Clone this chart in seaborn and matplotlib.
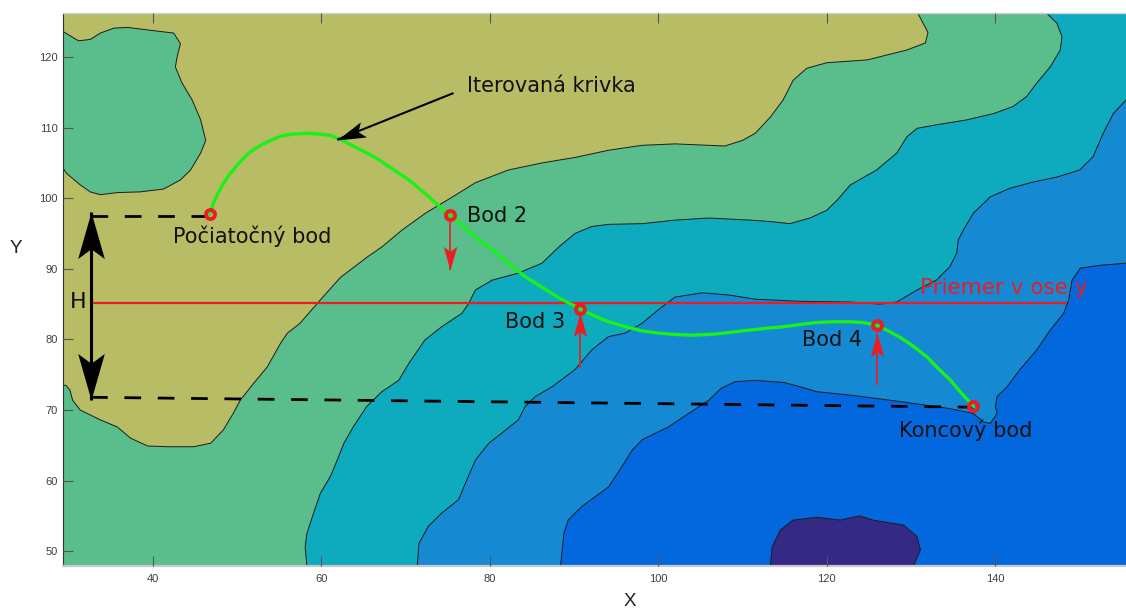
import numpy as np
import seaborn as sns
import matplotlib
matplotlib.use("Agg")
from matplotlib import pyplot as plt
from matplotlib.path import Path
from matplotlib.markers import MarkerStyle
from matplotlib.transforms import Affine2D

# contour boundaries (data units)
olive_x = [130.8, 132.0, 131.7, 129.5, 124.8, 120.0, 117.6, 116.0, 114.8, 113.3, 111.5, 110.0, 107.9, 102.0,
           98.1, 94.1, 90.2, 86.2, 82.2, 78.3, 75.6, 72.4, 69.6, 67.2, 65.5, 62.3, 59.9, 57.5, 56.0, 55.2,
           53.6, 52.0, 50.4, 49.6, 48.4, 46.9, 44.9, 41.8, 39.4, 37.4, 35.8, 33.8, 31.4, 30.5, 30.2, 29.7, 29.4]
olive_y = [126.2, 123.5, 122.0, 121.0, 119.6, 119.2, 118.4, 116.7, 113.9, 111.5, 109.2, 108.2, 107.4, 107.7,
           107.5, 106.8, 105.8, 105.0, 104.0, 102.2, 100.2, 97.9, 95.5, 93.1, 91.7, 88.8, 85.6, 82.3, 80.9, 79.5,
           76.1, 73.8, 71.4, 69.6, 67.2, 65.3, 64.8, 64.8, 64.9, 66.0, 67.6, 68.6, 70.0, 71.4, 72.8, 73.5, 73.5]

blob_x = [29.4, 31.2, 32.6, 33.8, 35.4, 37.0, 39.7, 42.5, 43.3, 42.9, 42.7, 43.5, 44.7, 45.7, 46.3, 45.7,
          44.5, 43.3, 41.3, 38.5, 35.8, 33.8, 32.6, 31.4, 29.8, 29.4]
blob_y = [123.6, 122.3, 122.5, 123.4, 124.1, 124.2, 123.8, 123.4, 121.9, 120.0, 118.6, 116.3, 113.9, 111.1,
          108.2, 106.4, 104.0, 102.6, 101.3, 100.9, 100.8, 100.5, 100.9, 101.9, 103.5, 104.2]

green_x = [146.1, 147.3, 147.9, 147.7, 146.5, 144.9, 143.7, 142.1, 139.8, 136.6, 133.0, 130.7, 129.5, 128.3,
           125.9, 122.8, 121.2, 120.0, 118.0, 115.6, 113.3, 110.9, 106.0, 102.0, 98.1, 94.1, 92.1, 90.1, 88.2,
           86.2, 83.4, 80.3, 78.3, 77.5, 76.7, 74.3, 72.3, 70.4, 69.2, 67.2, 65.4, 63.8, 62.7, 61.9, 61.1,
           59.9, 59.1, 58.3, 58.1, 58.3]
green_y = [126.2, 124.8, 122.9, 121.0, 118.6, 116.3, 114.4, 113.0, 112.0, 111.1, 110.4, 109.9, 108.7, 106.4,
           104.0, 101.9, 99.7, 98.3, 97.2, 96.4, 96.7, 96.9, 97.2, 96.9, 96.4, 96.3, 96.0, 95.0, 93.1,
           90.8, 89.4, 88.4, 87.0, 85.1, 83.7, 81.8, 79.9, 76.6, 74.2, 72.6, 70.5, 67.6, 65.3, 62.9, 60.6,
           58.2, 55.4, 52.5, 50.6, 47.9]

teal_x = [155.5, 154.0, 152.8, 151.6, 150.0, 147.3, 144.5, 141.7, 139.4, 137.4, 136.2, 135.6, 135.4, 134.6,
          133.0, 130.7, 128.3, 126.3, 122.8, 116.8, 111.5, 108.3, 105.2, 102.0, 100.2, 98.1, 96.1, 94.1,
          92.1, 90.1, 87.4, 85.4, 84.2, 83.4, 81.4, 79.9, 78.3, 77.1, 76.3, 74.3, 72.7, 71.6, 71.4]
teal_y = [113.9, 112.0, 109.2, 105.9, 104.0, 103.0, 102.3, 101.4, 100.2, 97.9, 95.5, 94.1, 92.2, 90.3,
          88.4, 87.0, 85.3, 85.0, 85.3, 85.4, 85.7, 86.3, 86.6, 86.0, 84.4, 82.3, 80.9, 80.4,
          78.5, 75.7, 73.3, 71.9, 70.5, 68.6, 66.7, 65.3, 62.9, 59.6, 57.3, 55.4, 53.5, 51.1, 47.9]

blue_x = [88.4, 88.8, 89.3, 90.9, 94.1, 95.7, 96.9, 98.1, 101.2, 103.6, 106.0, 107.5, 109.1, 111.5, 114.9,
          116.8, 118.8, 122.8, 128.7, 134.6, 137.4, 138.6, 139.4, 140.2, 140.0, 140.2, 141.4, 142.9, 144.9,
          146.5, 148.1, 148.7, 149.1, 150.1, 152.4, 155.5]
blue_y = [47.9, 52.5, 54.4, 56.3, 59.1, 62.0, 64.3, 65.8, 67.6, 69.5, 71.4, 73.1, 74.0, 74.2, 73.9,
          73.3, 72.6, 72.1, 71.2, 70.2, 69.5, 68.3, 68.1, 69.5, 70.5, 71.9, 73.3, 75.7, 78.5,
          81.3, 83.7, 85.6, 88.4, 90.1, 90.5, 90.8]

purple_x = [113.3, 113.5, 114.5, 116.0, 118.8, 121.6, 123.9, 125.5, 129.1, 130.7, 131.1, 130.3]
purple_y = [47.9, 50.6, 53.0, 54.4, 54.8, 54.4, 55.0, 54.4, 53.7, 52.1, 50.2, 47.9]

# iterated curve
curve_x = [46.8, 47.2, 47.8, 48.4, 49.2, 50.2, 51.4, 52.8, 54.2, 55.5, 56.9, 58.3, 59.7, 61.1, 62.5, 63.8,
           65.4, 66.4, 68.4, 70.4, 72.3, 73.9, 75.3, 76.7, 78.3, 80.3, 82.2, 84.2, 86.2, 88.2, 89.8, 90.7,
           92.1, 94.1, 96.1, 98.1, 100.0, 102.0, 104.0, 106.0, 107.9, 109.9, 111.5, 112.9, 114.9, 116.8,
           118.8, 120.8, 122.8, 124.3, 125.9, 127.3, 128.7, 130.3, 131.9, 133.2, 134.6, 135.6, 136.5, 137.4]
curve_y = [97.7, 99.3, 100.8, 102.1, 103.5, 104.9, 106.4, 107.5, 108.3, 108.9, 109.1, 109.2, 109.1, 108.9,
           108.2, 107.4, 106.4, 105.8, 104.2, 102.6, 100.7, 99.0, 97.6, 96.2, 94.5, 92.7, 90.8, 88.9, 87.4,
           85.9, 84.9, 84.3, 83.5, 82.5, 81.8, 81.2, 80.9, 80.7, 80.6, 80.7, 80.9, 81.2, 81.4, 81.6, 81.8,
           82.1, 82.4, 82.5, 82.5, 82.4, 82.0, 81.2, 80.3, 79.0, 77.5, 75.9, 74.3, 72.9, 71.7, 70.5]

point_x = [46.8, 75.3, 90.7, 125.9, 137.4]
point_y = [97.7, 97.6, 84.3, 82.0, 70.5]
point_labels = ["Počiatočný bod", "Bod 2", "Bod 3", "Bod 4", "Koncový bod"]
label_x = [42.4, 77.3, 81.8, 117.1, 128.6]
label_y = [93.6, 96.7, 81.6, 79.1, 66.2]

mean_y = 85.1
mean_x = [32.8, 148.4]
h_top, h_bottom, h_x = 98.1, 71.4, 32.7
start_dash_y = 97.5
end_dash_y = [71.8, 70.4]

# red step arrows (x, from y, to y)
step_x = [75.3, 90.7, 125.9]
step_from = [96.6, 75.9, 73.5]
step_to = [89.8, 83.7, 80.9]

X_LIM = (29.4, 155.5)
Y_LIM = (47.9, 126.2)

C_OLIVE = "#b8bc64"
C_GREEN = "#59bd8c"
C_TEAL = "#0eaabe"
C_MID = "#1589d1"
C_DEEP = "#0368de"
C_PURPLE = "#342a86"
C_RED = "#ec1c24"

sns.set_theme(style="white")
plt.rcParams["font.family"] = ["DejaVu Sans"]

fig = plt.figure(figsize=(11.26, 6.10), dpi=100)
ax = fig.add_axes([63.3 / 1126, 44 / 610, 1062.7 / 1126, 552.7 / 610])
ax.set_xlim(*X_LIM)
ax.set_ylim(*Y_LIM)
ax.set_facecolor(C_DEEP)
ax.set_axisbelow(False)

x0, x1 = X_LIM
y0, y1 = Y_LIM
ax.fill(blue_x + [x1, x0, x0], blue_y + [y1, y1, y0], color=C_MID, lw=0)
ax.fill(teal_x + [x0, x0, x1], teal_y + [y0, y1, y1], color=C_TEAL, lw=0)
ax.fill(green_x + [x0, x0], green_y + [y0, y1], color=C_GREEN, lw=0)
ax.fill(olive_x + [x0], olive_y + [y1], color=C_OLIVE, lw=0)
ax.fill(blob_x, blob_y, color=C_GREEN, lw=0)
ax.fill(purple_x, purple_y, color=C_PURPLE, lw=0)

for bx, by in [(olive_x, olive_y), (blob_x, blob_y), (green_x, green_y),
               (teal_x, teal_y), (blue_x, blue_y), (purple_x, purple_y)]:
    sns.lineplot(x=bx, y=by, sort=False, estimator=None, color="#1c1c1c", lw=0.7,
                 solid_joinstyle="round", ax=ax)

# notched arrow head, tip at origin pointing +x
HEAD = Path([(0, 0), (-1, 0.286), (-0.79, 0), (-1, -0.286), (0, 0)], closed=True)


def arrow(xa, ya, xb, yb, color, lw, size, both=False):
    ax.plot([xa, xb], [ya, yb], color=color, lw=lw, solid_capstyle="butt")
    pa = ax.transData.transform((xa, ya))
    pb = ax.transData.transform((xb, yb))
    ang = np.degrees(np.arctan2(pb[1] - pa[1], pb[0] - pa[0]))
    m = MarkerStyle(HEAD, transform=Affine2D().rotate_deg(ang))
    ax.plot(xb, yb, marker=m, ms=size, color=color, mew=0, ls="none")
    if both:
        m2 = MarkerStyle(HEAD, transform=Affine2D().rotate_deg(ang + 180))
        ax.plot(xa, ya, marker=m2, ms=size, color=color, mew=0, ls="none")


# dashed helper lines
ax.plot([h_x, point_x[0]], [start_dash_y, start_dash_y], color="black", lw=2, dashes=(6, 6))
ax.plot([h_x, point_x[-1]], end_dash_y, color="black", lw=2, dashes=(6, 6))

# mean line
ax.plot(mean_x, [mean_y, mean_y], color=C_RED, lw=1.6)
ax.text(131.0, 86.5, "Priemer v ose y", color=C_RED, fontsize=15.5, va="baseline")

# H arrow
arrow(h_x, h_bottom, h_x, h_top, "black", 2.2, 67, both=True)
ax.text(30.2, 84.4, "H", fontsize=16, va="baseline", color="#111111")

# iterated curve
sns.lineplot(x=curve_x, y=curve_y, sort=False, estimator=None, color="#19f219", lw=2.4,
             solid_joinstyle="round", ax=ax)
arrow(75.7, 114.9, 61.9, 108.3, "black", 1.5, 41)
ax.text(77.3, 115.1, "Iterovaná krivka", fontsize=15, va="baseline", color="#111111")

for sx, sa, sb in zip(step_x, step_from, step_to):
    arrow(sx, sa, sx, sb, C_RED, 1.2, 34)

ax.plot(point_x, point_y, "o", ms=6.5, mfc="none", mec=C_RED, mew=2.8)
for lx, ly, lab in zip(label_x, label_y, point_labels):
    ax.text(lx, ly, lab, fontsize=15, va="baseline", color="#111111")

ax.set_xticks(np.arange(40, 141, 20))
ax.set_yticks(np.arange(50, 121, 10))
ax.tick_params(direction="in", length=7, width=0.8, color="#555555", labelsize=8,
               labelcolor="#404040", top=True, right=False, bottom=True, left=True)
ax.tick_params(axis="x", pad=6)
ax.tick_params(axis="y", pad=4)
for lbl in ax.get_xticklabels() + ax.get_yticklabels():
    lbl.set_family("Liberation Sans")

ax.set_xlabel("X", fontsize=13.5, family="Liberation Sans", color="#222222", va="center")
ax.set_ylabel("Y", fontsize=13.5, family="Liberation Sans", color="#222222", rotation=0,
              va="center", ha="center")
ax.xaxis.set_label_coords(0.533, -0.0646)
ax.yaxis.set_label_coords(-0.0445, 0.575)

ax.spines["right"].set_visible(False)
ax.spines["top"].set_color("#d0d0d0")
ax.spines["top"].set_linewidth(1.0)
ax.spines["bottom"].set_color("#c8c8c8")
ax.spines["bottom"].set_linewidth(1.6)
ax.spines["left"].set_color("#333333")
ax.spines["left"].set_linewidth(0.8)

fig.savefig("out.png", dpi=100)
